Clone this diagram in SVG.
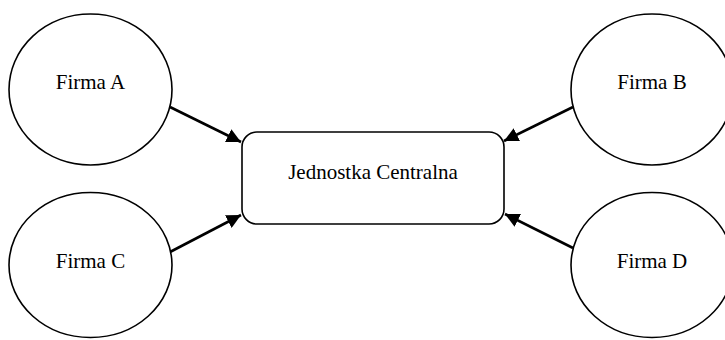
<svg xmlns="http://www.w3.org/2000/svg" width="725" height="340" viewBox="0 0 725 340">
<defs>
<marker id="arr" viewBox="0 0 10 10" refX="10" refY="5" markerWidth="5.5" markerHeight="5.5" markerUnits="strokeWidth" orient="auto">
<path d="M0,0 L10,5 L0,10 z" fill="#000"/>
</marker>
<style>
.n{fill:#fff;stroke:#000;stroke-width:1.6}
.t{font-family:'Liberation Serif','Times New Roman','DejaVu Serif',serif;font-size:21px;fill:#000;text-anchor:middle}
.c{stroke:#000;stroke-width:2.6;fill:none;marker-end:url(#arr)}
</style>
</defs>
<rect width="725" height="340" fill="#fff"/>
<g id="connectors">
<line class="c" x1="170" y1="107" x2="241" y2="142"/>
<line class="c" x1="170" y1="252" x2="241" y2="215"/>
<line class="c" x1="573" y1="107" x2="504" y2="141"/>
<line class="c" x1="573" y1="248" x2="505" y2="214"/>
</g>
<g id="firmaA">
<ellipse class="n" cx="90.5" cy="89.5" rx="81.5" ry="75.5"/>
<text class="t" x="90.5" y="89" font-family="Liberation Serif, serif">Firma A</text>
</g>
<g id="firmaC">
<ellipse class="n" cx="90.5" cy="265" rx="81.5" ry="72.5"/>
<text class="t" x="90.5" y="268">Firma C</text>
</g>
<g id="firmaB">
<ellipse class="n" cx="652" cy="89.5" rx="81" ry="75.5"/>
<text class="t" x="652" y="89">Firma B</text>
</g>
<g id="firmaD">
<ellipse class="n" cx="652" cy="265" rx="81" ry="72.5"/>
<text class="t" x="652" y="268">Firma D</text>
</g>
<g id="central">
<rect class="n" x="242" y="132" width="262" height="92" rx="15" ry="15"/>
<text class="t" x="373" y="179">Jednostka Centralna</text>
</g>
</svg>
